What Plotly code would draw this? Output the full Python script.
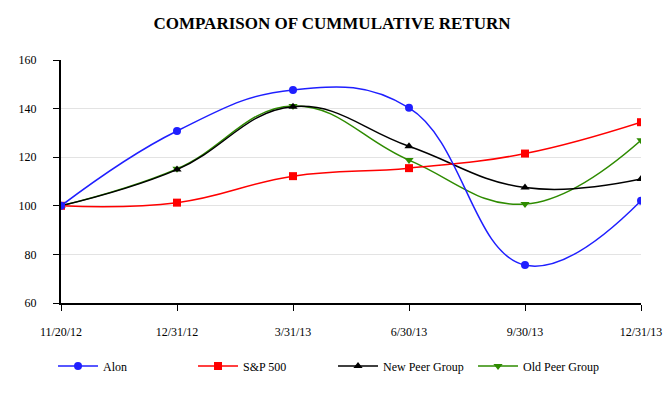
import plotly.graph_objects as go

dates = ["11/20/12", "12/31/12", "3/31/13", "6/30/13", "9/30/13", "12/31/13"]
alon = [100, 130.8, 147.7, 140.3, 75.6, 102.1]
sp500 = [100, 101.3, 112.2, 115.5, 121.5, 134.4]
new_peer = [100, 114.9, 140.8, 124.5, 107.5, 111.0]
old_peer = [100, 115.2, 141.1, 118.8, 100.7, 127.0]
y_ticks = [60, 80, 100, 120, 140, 160]

series = [
    ("Alon", alon, "#1f1fff", "circle"),
    ("S&P 500", sp500, "#ff0000", "square"),
    ("New Peer Group", new_peer, "#000000", "triangle-up"),
    ("Old Peer Group", old_peer, "#2e8b00", "triangle-down"),
]

fig = go.Figure()
for name, vals, color, sym in reversed(series):
    fig.add_trace(go.Scatter(
        x=dates, y=vals, name=name, mode="lines+markers",
        line=dict(color=color, width=1.5, shape="spline", smoothing=1.2),
        marker=dict(color=color, symbol=sym, size=8),
    ))

serif = "Liberation Serif, Times New Roman, serif"
fig.update_layout(
    width=664, height=392,
    paper_bgcolor="white", plot_bgcolor="white",
    margin=dict(l=53, r=31, t=52, b=97),
    font=dict(family=serif, size=12, color="black"),
    title=dict(text="<b>COMPARISON OF CUMMULATIVE RETURN</b>", x=0.488, xanchor="center",
               xref="container", yref="container", y=0.9617, yanchor="middle",
               font=dict(family=serif, size=17, color="black")),
    showlegend=True,
    legend=dict(orientation="h", x=0.0678, xref="container", xanchor="left",
                y=0.0867, yref="container", yanchor="middle",
                traceorder="reversed", itemwidth=40,
                entrywidth=85, entrywidthmode="pixels",
                font=dict(family=serif, size=12), bgcolor="rgba(0,0,0,0)"),
)
fig.update_xaxes(
    type="category", range=[0, 5], showgrid=False, automargin=False,
    showline=True, linecolor="black", linewidth=2,
    ticks="outside", ticklen=6, tickcolor="black", tickwidth=1,
    ticklabelstandoff=11, zeroline=False,
)
fig.update_yaxes(
    range=[60, 160], tickvals=y_ticks, showgrid=True, gridcolor="#e3e3e3", gridwidth=1,
    automargin=False,
    showline=True, linecolor="black", linewidth=2,
    ticks="outside", ticklen=6, tickcolor="black", tickwidth=1,
    ticklabelstandoff=14, zeroline=False,
)

fig.write_html("out.html")
